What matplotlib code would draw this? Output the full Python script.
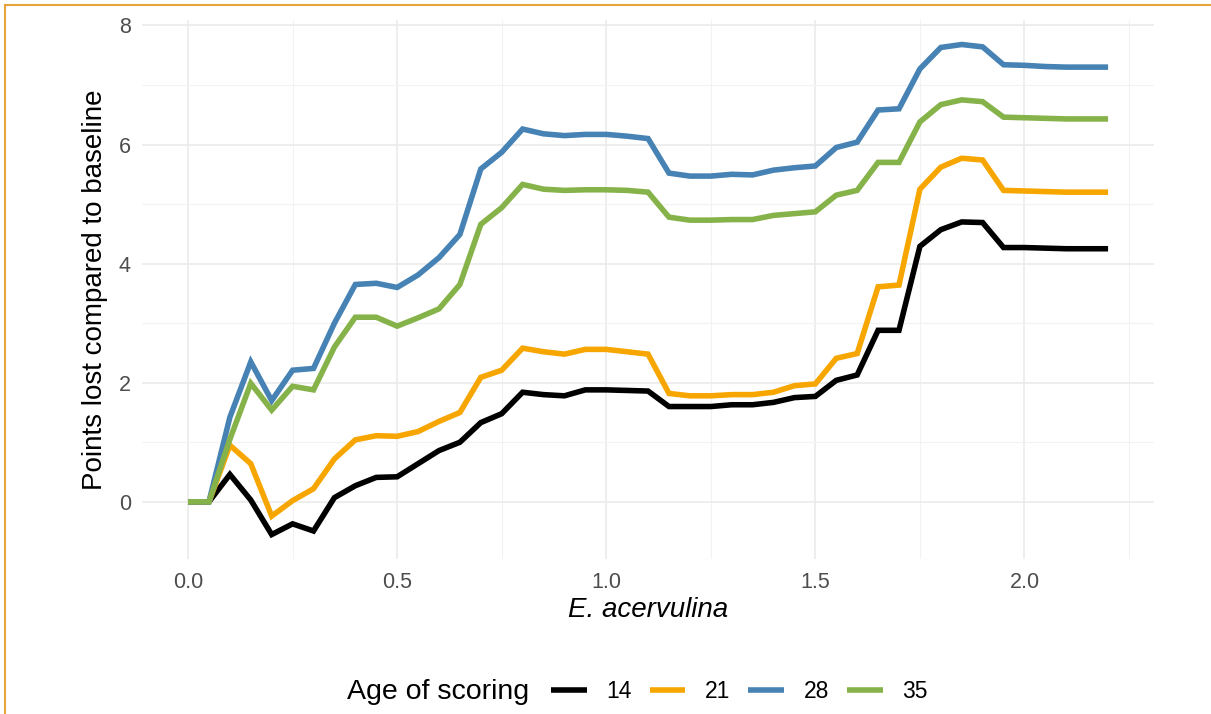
import matplotlib.pyplot as plt
from matplotlib.lines import Line2D
from matplotlib.ticker import MultipleLocator

plt.rcParams['font.family'] = ['Liberation Sans', 'DejaVu Sans']

# E. acervulina score (x) and points lost per age of scoring
acervulina = [0.00, 0.05, 0.10, 0.15, 0.20, 0.25, 0.30, 0.35, 0.40, 0.45, 0.50,
              0.55, 0.60, 0.65, 0.70, 0.75, 0.80, 0.85, 0.90, 0.95, 1.00,
              1.05, 1.10, 1.15, 1.20, 1.25, 1.30, 1.35, 1.40, 1.45, 1.50,
              1.55, 1.60, 1.65, 1.70, 1.75, 1.80, 1.85, 1.90, 1.95, 2.00,
              2.05, 2.10, 2.15, 2.20]

age14 = [0, 0, 0.46, 0.03, -0.55, -0.37, -0.49, 0.07, 0.27, 0.41, 0.42,
         0.64, 0.86, 1.00, 1.33, 1.48, 1.84, 1.80, 1.78, 1.88, 1.88,
         1.87, 1.86, 1.60, 1.60, 1.60, 1.63, 1.63, 1.67, 1.75, 1.77,
         2.04, 2.13, 2.88, 2.88, 4.29, 4.57, 4.70, 4.69, 4.27, 4.27,
         4.26, 4.25, 4.25, 4.25]
age21 = [0, 0, 0.95, 0.64, -0.24, 0.02, 0.22, 0.72, 1.04, 1.11, 1.10,
         1.18, 1.35, 1.50, 2.09, 2.21, 2.58, 2.52, 2.48, 2.56, 2.56,
         2.52, 2.48, 1.82, 1.78, 1.78, 1.80, 1.80, 1.84, 1.95, 1.98,
         2.41, 2.49, 3.61, 3.64, 5.25, 5.62, 5.77, 5.74, 5.23, 5.22,
         5.21, 5.20, 5.20, 5.20]
age28 = [0, 0, 1.42, 2.35, 1.70, 2.21, 2.24, 3.00, 3.65, 3.67, 3.60,
         3.81, 4.10, 4.49, 5.59, 5.87, 6.26, 6.18, 6.15, 6.17, 6.17,
         6.14, 6.10, 5.52, 5.47, 5.47, 5.50, 5.49, 5.57, 5.61, 5.64,
         5.95, 6.04, 6.58, 6.60, 7.27, 7.63, 7.68, 7.64, 7.34, 7.33,
         7.31, 7.30, 7.30, 7.30]
age35 = [0, 0, 1.05, 1.99, 1.54, 1.94, 1.88, 2.60, 3.10, 3.10, 2.95,
         3.09, 3.24, 3.65, 4.66, 4.94, 5.33, 5.25, 5.23, 5.24, 5.24,
         5.23, 5.20, 4.78, 4.73, 4.73, 4.74, 4.74, 4.81, 4.84, 4.87,
         5.15, 5.23, 5.70, 5.70, 6.38, 6.67, 6.75, 6.72, 6.46, 6.45,
         6.44, 6.43, 6.43, 6.43]

ages = ['14', '21', '28', '35']
series = [age14, age21, age28, age35]
colors = ['#000000', '#F7A600', '#4682B4', '#86B24A']

fig = plt.figure(figsize=(12.11, 7.14), dpi=100)
ax = fig.add_axes([0.1173, 0.217, 0.8357, 0.755])

for label, values, col in zip(ages, series, colors):
    ax.plot(acervulina, values, color=col, lw=4, label=label,
            solid_joinstyle='miter', solid_capstyle='butt')

# ggplot-style 5% padding around the data
lo = min(min(s) for s in series)
hi = max(max(s) for s in series)
ax.set_xlim(-0.05 * 2.2, 2.2 * 1.05)
ax.set_ylim(lo - 0.05 * (hi - lo), hi + 0.05 * (hi - lo))

ax.xaxis.set_major_locator(MultipleLocator(0.5))
ax.xaxis.set_minor_locator(MultipleLocator(0.25))
ax.yaxis.set_major_locator(MultipleLocator(2))
ax.yaxis.set_minor_locator(MultipleLocator(1))
ax.xaxis.set_major_formatter(lambda v, p: f'{v:.1f}')
ax.yaxis.set_major_formatter(lambda v, p: f'{v:.0f}')
ax.grid(which='major', color='#EBEBEB', lw=1.2)
ax.grid(which='minor', color='#F2F2F2', lw=0.8)
ax.set_axisbelow(True)
for s in ax.spines.values():
    s.set_visible(False)
ax.tick_params(which='both', length=0, labelsize=15.5, labelcolor='#4D4D4D')
ax.tick_params(axis='x', pad=9)
ax.tick_params(axis='y', pad=8)

ax.set_ylabel('Points lost compared to baseline', fontsize=20)
ax.yaxis.set_label_coords(-0.034, 0.5)
ax.set_xlabel('E. acervulina', fontsize=20, style='italic')
ax.xaxis.set_label_coords(0.5, -0.07)

# legend along the bottom with its title on the left
fig.text(347 / 1211, 1 - 692 / 714, 'Age of scoring', fontsize=20.5,
         ha='left', va='center')
ax.legend(loc='center left', bbox_to_anchor=(551 / 1211, 1 - 692 / 714),
          bbox_transform=fig.transFigure, ncol=4, frameon=False,
          fontsize=16.5, handlelength=1.55, handletextpad=0.85,
          columnspacing=0.8, borderpad=0, borderaxespad=0)

# thin orange frame on the top and left edges
frame_col = '#E8A33A'
fig.add_artist(Line2D([5 / 1211, 1], [1 - 5 / 714, 1 - 5 / 714],
                      transform=fig.transFigure, color=frame_col, lw=1.5))
fig.add_artist(Line2D([5 / 1211, 5 / 1211], [0, 1 - 5 / 714],
                      transform=fig.transFigure, color=frame_col, lw=1.5))

fig.savefig('out.png', dpi=100)
